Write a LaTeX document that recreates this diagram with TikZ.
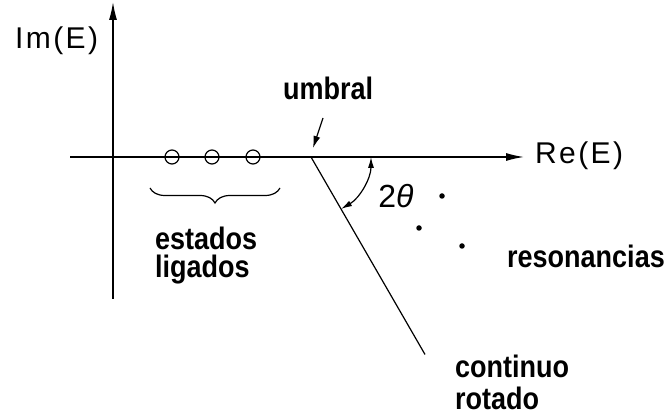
\documentclass[tikz,border=0pt]{standalone}
\usepackage{fontspec}
\usepackage{graphicx}
\setmainfont{Liberation Sans}
\newfontfamily\lblfont{Liberation Sans}
\newfontfamily\axfont[LetterSpace=8]{Liberation Sans}
\newcommand{\tallbox}[1]{\scalebox{1}[1.15]{#1}}
\usetikzlibrary{arrows.meta,decorations.pathreplacing,calc}
\begin{document}
\begin{tikzpicture}[x=1pt,y=1pt,
  axis/.style={line width=1.4pt,-{Latex[length=18pt,width=8pt]}},
  thinline/.style={line width=1.2pt},
  bound/.style={circle,draw,line width=1.2pt,minimum size=14pt,inner sep=0pt},
  reso/.style={circle,fill,minimum size=5.5pt,inner sep=0pt},
  lbl/.style={font=\lblfont\bfseries\fontsize{27}{29}\selectfont,inner sep=0pt,align=left},
  axlbl/.style={font=\axfont\fontsize{30}{32}\selectfont,inner sep=0pt}]
\useasboundingbox (0,0) rectangle (670,418);
% axes
\coordinate (vb) at (113,119);
\coordinate (vt) at (113,416);
\coordinate (hl) at (70,261);
\coordinate (hr) at (524,261);
\coordinate (u) at (311,261);
\draw[axis] (vb) -- (vt);
\draw[axis] (hl) -- (hr);
\node[axlbl,anchor=base west] (im) at (15,369) {Im(E)};
\node[axlbl,anchor=west] (re) at (535,262) {Re(E)};
% bound states
\node[bound] (b1) at (172,261) {};
\node[bound] (b2) at (212,261) {};
\node[bound] (b3) at (253,261) {};
\coordinate (brl) at (150,230);
\coordinate (brr) at (280,230);
\draw[thinline,decorate,decoration={brace,mirror,amplitude=15pt}] (brl) -- (brr);
\node[lbl,anchor=base west] (est) at (155,168) {\tallbox{estados}};
\node[lbl,anchor=base west] (lig) at (155,140) {\tallbox{ligados}};
% threshold
\node[lbl,anchor=base west] (umb) at (283,318) {\tallbox{umbral}};
\coordinate (ua) at (323,300);
\coordinate (ut) at (313,270);
\draw[line width=1.2pt,-{Latex[length=12pt,width=7pt]}] (ua) -- (ut);
% rotated continuum
\coordinate (ce) at ($(u)+(-60:228)$);
\draw[thinline] (u) -- (ce);
\coordinate (as) at ($(u)+(0:60)$);
\draw[thinline,{Latex[length=11pt,width=6pt]}-{Latex[length=11pt,width=6pt]}] (as) arc[start angle=0,end angle=-60,radius=60];
\node[font=\fontsize{32}{34}\selectfont,inner sep=0pt] (th) at (396,222) {2\textit{θ}};
% resonances
\node[reso] (r1) at (442,222) {};
\node[reso] (r2) at (419,190) {};
\node[reso] (r3) at (462,172) {};
\node[lbl,anchor=base west] (res) at (507,150) {\tallbox{resonancias}};
\node[lbl,anchor=base west] (cont) at (455,40) {\tallbox{continuo}};
\node[lbl,anchor=base west] (rot) at (455,8) {\tallbox{rotado}};
\end{tikzpicture}
\end{document}
